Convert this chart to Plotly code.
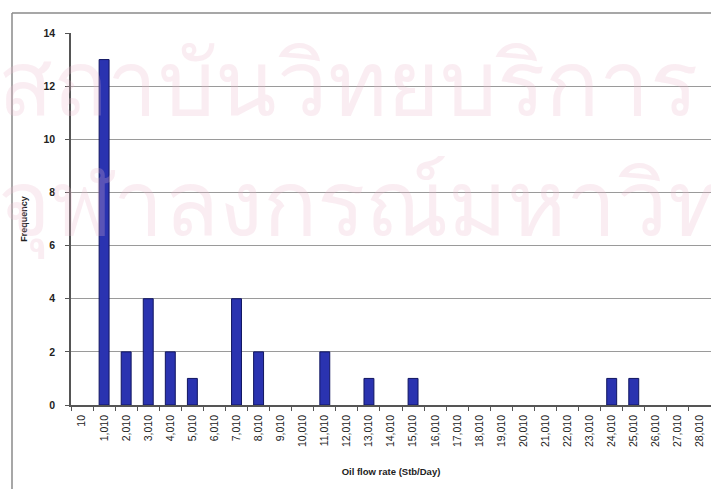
import plotly.graph_objects as go

# category labels (bin start, Stb/Day) and counts
bins = [10 + 1000 * i for i in range(29)]
bin_labels = [f"{b:,}" for b in bins]
frequency = [0, 13, 2, 4, 2, 1, 0, 4, 2, 0, 0, 2, 0, 1, 0, 1,
             0, 0, 0, 0, 0, 0, 0, 0, 1, 1, 0, 0, 0]
y_ticks = [0, 2, 4, 6, 8, 10, 12, 14]

watermark = ["สถาบันวิทยบริการ", "จุฬาลงกรณ์มหาวิทยาลัย"]

W, H = 711, 489
L, R, T, B = 71, 0, 33, 84
pw, ph = W - L - R, H - T - B


def px(x):
    return (x - L) / pw


def py(y):
    return (H - B - y) / ph


fig = go.Figure()
fig.add_trace(go.Bar(
    x=bin_labels, y=frequency,
    # no outline on empty bins so they don't leave a dash on the axis
    marker=dict(color="#2a33b0",
                line=dict(color="#101560", width=[1 if f else 0 for f in frequency])),
    width=0.45,
))

# faint watermark of the scanned page
wm_font = dict(size=90, color="rgba(235,185,205,0.25)", family="Noto Sans, DejaVu Sans, sans-serif")
fig.add_annotation(text=watermark[0], x=px(-4), y=py(80), xref="paper", yref="paper",
                   xanchor="left", yanchor="middle", showarrow=False, font=wm_font)
fig.add_annotation(text=watermark[1], x=px(-4), y=py(200), xref="paper", yref="paper",
                   xanchor="left", yanchor="middle", showarrow=False, font=wm_font)

# outer chart frame (left and top edges visible in the scan)
frame = dict(color="#8a8a8a", width=1.5)
fig.add_shape(type="line", xref="paper", yref="paper",
              x0=px(12), x1=px(712), y0=py(13), y1=py(13), line=frame)
fig.add_shape(type="line", xref="paper", yref="paper",
              x0=px(12), x1=px(12), y0=py(13), y1=py(500), line=frame)

fig.update_layout(
    width=W, height=H,
    margin=dict(l=L, r=R, t=T, b=B, autoexpand=False),
    paper_bgcolor="white", plot_bgcolor="white",
    showlegend=False,
    font=dict(family="Liberation Sans, Arial, sans-serif", color="#222"),
)
fig.update_xaxes(
    type="category",
    tickangle=-90,
    tickfont=dict(size=10.5),
    ticks="outside", tickson="boundaries", ticklen=4, tickcolor="#555",
    ticklabelstandoff=4,
    showline=True, linecolor="#555", linewidth=1.5,
    showgrid=False,
    automargin=False,
    title=dict(text="<b>Oil flow rate (Stb/Day)</b>", font=dict(size=9.5), standoff=22),
)
fig.update_yaxes(
    range=[0, 14], tickvals=y_ticks, ticktext=[f"<b>{v}</b>" for v in y_ticks],
    tickfont=dict(size=10.5),
    ticks="outside", ticklen=4, tickcolor="#555",
    ticklabelstandoff=8,
    showline=True, linecolor="#555", linewidth=1.5,
    showgrid=True, gridcolor="#9a9a9a", gridwidth=1.2,
    zeroline=False,
    automargin=False,
    title=dict(text="<b>Frequency</b>", font=dict(size=9), standoff=14),
)

# drop the page's default body margin so the chart sits at the window corner
fig.write_html("out.html", config={"displayModeBar": False},
               post_script="document.body.style.margin='0';")
